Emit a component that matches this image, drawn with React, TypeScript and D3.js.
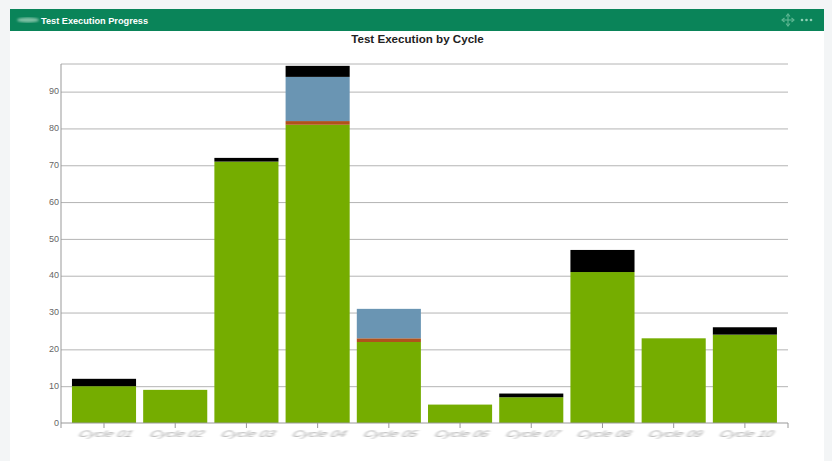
import React, { useEffect, useRef } from "react";
import * as d3 from "d3";

const cycles = ["Cycle 01", "Cycle 02", "Cycle 03", "Cycle 04", "Cycle 05", "Cycle 06", "Cycle 07", "Cycle 08", "Cycle 09", "Cycle 10"];
const passed = [10, 9, 71, 81, 22, 5, 7, 41, 23, 24];
const failed = [0, 0, 0, 1, 1, 0, 0, 0, 0, 0];
const blocked = [0, 0, 0, 12, 8, 0, 0, 0, 0, 0];
const unexecuted = [2, 0, 1, 3, 0, 0, 1, 6, 0, 2];
const yTicks = [0, 10, 20, 30, 40, 50, 60, 70, 80, 90];

const seriesKeys = ["passed", "failed", "blocked", "unexecuted"];
const seriesColors: Record<string, string> = {
  passed: "#75ad00",
  failed: "#b0521c",
  blocked: "#6a95b3",
  unexecuted: "#000000",
};

const App: React.FC = () => {
  const svgRef = useRef<SVGSVGElement>(null);

  useEffect(() => {
    if (!svgRef.current) return;
    const width = 832;
    const height = 461;
    const font = "Arial, 'Liberation Sans', sans-serif";

    document.body.style.margin = "0";

    const svg = d3.select(svgRef.current);
    svg.selectAll("*").remove();
    svg.attr("width", width).attr("height", height).style("display", "block");

    const defs = svg.append("defs");
    defs.append("filter").attr("id", "smudge")
      .append("feGaussianBlur").attr("stdDeviation", 1.1);
    defs.append("filter").attr("id", "smudge-label")
      .append("feGaussianBlur").attr("stdDeviation", "1.2 0.7");

    // page and card
    svg.append("rect").attr("width", width).attr("height", height).attr("fill", "#f3f5f6");
    svg.append("rect").attr("x", 10).attr("y", 9).attr("width", 814).attr("height", 452).attr("fill", "#ffffff");
    svg.append("rect").attr("x", 10).attr("y", 9).attr("width", 814).attr("height", 22).attr("fill", "#0a8459");

    // header
    svg.append("ellipse").attr("cx", 28).attr("cy", 20).attr("rx", 11).attr("ry", 2.5)
      .attr("fill", "#7fc0a4").attr("filter", "url(#smudge)");
    svg.append("text").attr("x", 41).attr("y", 23.5).text("Test Execution Progress")
      .attr("fill", "#ffffff").attr("font-family", font).attr("font-size", 9.2).attr("font-weight", 700);

    const icon = svg.append("g").attr("transform", "translate(788,20)")
      .attr("stroke", "#5fb894").attr("stroke-width", 1.1).attr("fill", "none");
    icon.append("line").attr("x1", -5).attr("x2", 5);
    icon.append("line").attr("y1", -5).attr("y2", 5);
    icon.append("path").attr("d", "M-2,-3.5L0,-6L2,-3.5M-2,3.5L0,6L2,3.5M-3.5,-2L-6,0L-3.5,2M3.5,-2L6,0L3.5,2");
    [802, 806.5, 811].forEach((cx) => {
      svg.append("circle").attr("cx", cx).attr("cy", 20).attr("r", 1.3).attr("fill", "#8fd0b5");
    });

    svg.append("text").attr("x", 417.5).attr("y", 42.5).attr("text-anchor", "middle")
      .text("Test Execution by Cycle")
      .attr("fill", "#222").attr("font-family", font).attr("font-size", 11.6).attr("font-weight", 700);

    // scales
    const left = 61;
    const right = 788;
    const y = d3.scaleLinear().domain([0, 97.5]).range([423, 64]);
    const x = d3.scaleBand<string>().domain(cycles).range([68.4, 780.5]).paddingInner(0.1).paddingOuter(0.05);

    // grid and axes
    const grid = svg.append("g").attr("transform", `translate(${left},0)`)
      .call(d3.axisLeft(y).tickValues(yTicks).tickSize(0).tickFormat(d3.format("d")));
    grid.select(".domain").remove();
    grid.selectAll(".tick line").remove();
    grid.selectAll(".tick text").attr("fill", "#666").attr("font-size", 9).attr("font-family", font).attr("x", -2).attr("dy", "0.25em");
    grid.selectAll<SVGGElement, number>(".tick").filter((d) => d > 0).append("line")
      .attr("x1", 0).attr("x2", right - left).attr("stroke", "#b4b4b4");

    svg.append("line").attr("x1", left).attr("x2", right).attr("y1", 64).attr("y2", 64).attr("stroke", "#b4b4b4");
    svg.append("line").attr("x1", left).attr("x2", left).attr("y1", 64).attr("y2", 428).attr("stroke", "#999");
    svg.append("line").attr("x1", right).attr("x2", right).attr("y1", 423).attr("y2", 428).attr("stroke", "#999");

    // stacked bars
    const rows = cycles.map((cycle, i) => ({
      cycle,
      passed: passed[i],
      failed: failed[i],
      blocked: blocked[i],
      unexecuted: unexecuted[i],
    }));
    const stacked = d3.stack<any>().keys(seriesKeys)(rows);
    svg.append("g").selectAll("g").data(stacked).join("g")
      .attr("fill", (s) => seriesColors[s.key])
      .selectAll("rect").data((s) => s.filter((d) => d[1] > d[0])).join("rect")
      .attr("x", (d) => x(d.data.cycle)!)
      .attr("width", x.bandwidth())
      .attr("y", (d) => y(d[1]))
      .attr("height", (d) => y(d[0]) - y(d[1]));

    // bottom axis, labels smudged as in the source screenshot
    const xAxis = svg.append("g").attr("transform", "translate(0,423)")
      .call(d3.axisBottom(x).tickSize(5).tickFormat(() => ""));
    xAxis.select(".domain").attr("stroke", "#999").attr("d", `M${left},0H${right}`);
    xAxis.selectAll(".tick line").attr("stroke", "#999");

    svg.append("g").selectAll("text").data(cycles).join("text")
      .attr("transform", (d) => `translate(${x(d)! + x.bandwidth() / 2},437) skewX(-35) scale(1.25,0.8)`)
      .attr("text-anchor", "middle")
      .attr("font-family", font).attr("font-size", 11)
      .attr("fill", "#a8a8a8").attr("filter", "url(#smudge-label)")
      .text((d) => d);
  }, []);

  return <svg ref={svgRef}></svg>;
};

export default App;
